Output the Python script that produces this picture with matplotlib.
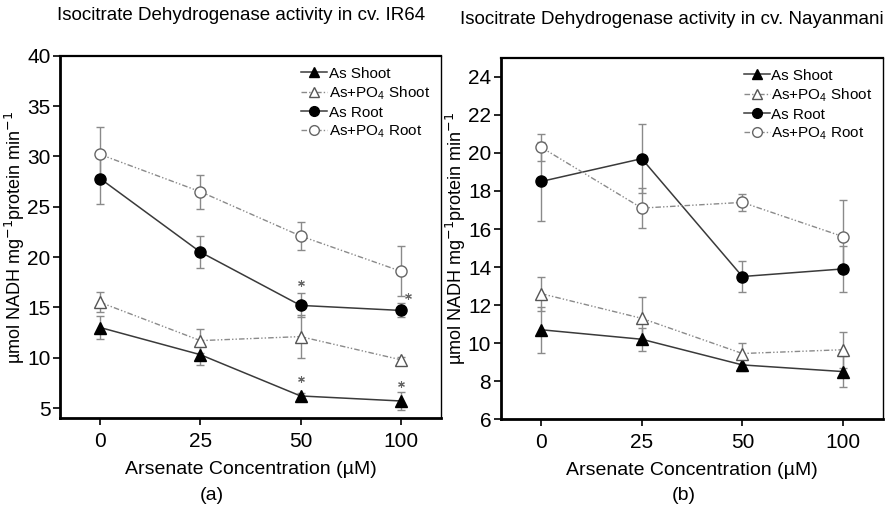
import matplotlib
matplotlib.use("Agg")
import matplotlib.pyplot as plt
from matplotlib.lines import Line2D

plt.rcParams['font.family'] = ['Liberation Sans', 'DejaVu Sans']
plt.rcParams['mathtext.fontset'] = 'custom'
plt.rcParams['mathtext.rm'] = 'Liberation Sans'
plt.rcParams['mathtext.it'] = 'Liberation Sans'
plt.rcParams['mathtext.default'] = 'regular'

conc = ['0', '25', '50', '100']

# cv. IR64
ir_as_shoot = [13.0, 10.3, 6.2, 5.7]
ir_as_shoot_err = [1.1, 1.0, 0.25, 0.85]
ir_po4_shoot = [15.5, 11.7, 12.1, 9.8]
ir_po4_shoot_err = [1.0, 1.2, 2.1, 0.3]
ir_as_root = [27.8, 20.5, 15.2, 14.7]
ir_as_root_err = [2.5, 1.6, 1.2, 0.7]
ir_po4_root = [30.2, 26.5, 22.1, 18.6]
ir_po4_root_err = [2.7, 1.7, 1.4, 2.5]
ir_stars_x = [2, 3.07, 2, 3]
ir_stars_y = [17.4, 16.1, 7.9, 7.4]

# cv. Nayanmani
ny_as_shoot = [10.7, 10.2, 8.85, 8.5]
ny_as_shoot_err = [1.2, 0.6, 0.3, 0.8]
ny_po4_shoot = [12.6, 11.3, 9.45, 9.65]
ny_po4_shoot_err = [0.9, 1.1, 0.55, 0.95]
ny_as_root = [18.5, 19.7, 13.5, 13.9]
ny_as_root_err = [2.1, 1.8, 0.8, 1.2]
ny_po4_root = [20.3, 17.1, 17.4, 15.6]
ny_po4_root_err = [0.7, 1.05, 0.45, 1.9]

ylab = r'µmol NADH mg$^{\mathsf{-1}}$protein min$^{\mathsf{-1}}$'
xlab = 'Arsenate Concentration (µM)'
names = ['As Shoot', 'As+PO$_4$ Shoot', 'As Root', 'As+PO$_4$ Root']

fig = plt.figure(figsize=(8.85, 5.08), dpi=100)
axa = fig.add_axes([0.068, 0.177, 0.430, 0.713])
axb = fig.add_axes([0.566, 0.175, 0.432, 0.711])

dark = '#3a3a3a'
light = '#8a8a8a'
dashdot = (0, (4, 1.5, 1, 1.5, 1, 1.5))
styles = [
    dict(color=dark, marker='^', mfc='black', mec='black', lw=1.1, ls='-'),
    dict(color=light, marker='^', mfc='white', mec='#555555', lw=1.0, ls=dashdot),
    dict(color=dark, marker='o', mfc='black', mec='black', lw=1.1, ls='-'),
    dict(color=light, marker='o', mfc='white', mec='#666666', lw=1.0, ls=dashdot),
]


def panel(ax, series, errs):
    x = range(len(conc))
    handles = []
    for ys, es, st, nm in zip(series, errs, styles, names):
        ax.errorbar(x, ys, yerr=es, ecolor=light, elinewidth=1, capsize=3, ms=8,
                    zorder=3, **st)
        handles.append(Line2D([], [], ms=7, **st))
    ax.set_xticks(list(x))
    ax.set_xticklabels(conc)
    ax.set_xlim(-0.4, 3.4)
    ax.tick_params(labelsize=15, direction='out', length=5, width=1.2, pad=2)
    ax.tick_params(axis='x', pad=5)
    ax.set_xlabel(xlab, fontsize=14, labelpad=7)
    ax.set_ylabel(ylab, fontsize=13, labelpad=0)
    for sp in ax.spines.values():
        sp.set_linewidth(1.0)
    ax.spines['left'].set_linewidth(2)
    ax.spines['bottom'].set_linewidth(2)
    ax.spines['top'].set_linewidth(1.6)
    ax.legend(handles, names, loc='upper right', frameon=False, fontsize=11, handlelength=1.7,
              handletextpad=0.1, labelspacing=0.25, borderaxespad=0.3)


panel(axa, [ir_as_shoot, ir_po4_shoot, ir_as_root, ir_po4_root],
      [ir_as_shoot_err, ir_po4_shoot_err, ir_as_root_err, ir_po4_root_err])
axa.set_ylim(4, 40)
axa.set_yticks([5, 10, 15, 20, 25, 30, 35, 40])
axa.scatter(ir_stars_x, ir_stars_y, marker=(6, 2, 0), s=18, color='#666666', lw=0.8, zorder=4)

panel(axb, [ny_as_shoot, ny_po4_shoot, ny_as_root, ny_po4_root],
      [ny_as_shoot_err, ny_po4_shoot_err, ny_as_root_err, ny_po4_root_err])
axb.set_ylim(6, 25)
axb.set_yticks([6, 8, 10, 12, 14, 16, 18, 20, 22, 24])

fig.text(241 / 885, 1 - 16 / 508, 'Isocitrate Dehydrogenase activity in cv. IR64',
         ha='center', va='center', fontsize=13.5)
fig.text(672 / 885, 1 - 19 / 508, 'Isocitrate Dehydrogenase activity in cv. Nayanmani',
         ha='center', va='center', fontsize=13.5)
fig.text(212 / 885, 1 - 496 / 508, '(a)', ha='center', va='center', fontsize=14)
fig.text(684 / 885, 1 - 496 / 508, '(b)', ha='center', va='center', fontsize=14)

fig.savefig('out.png', dpi=100)
